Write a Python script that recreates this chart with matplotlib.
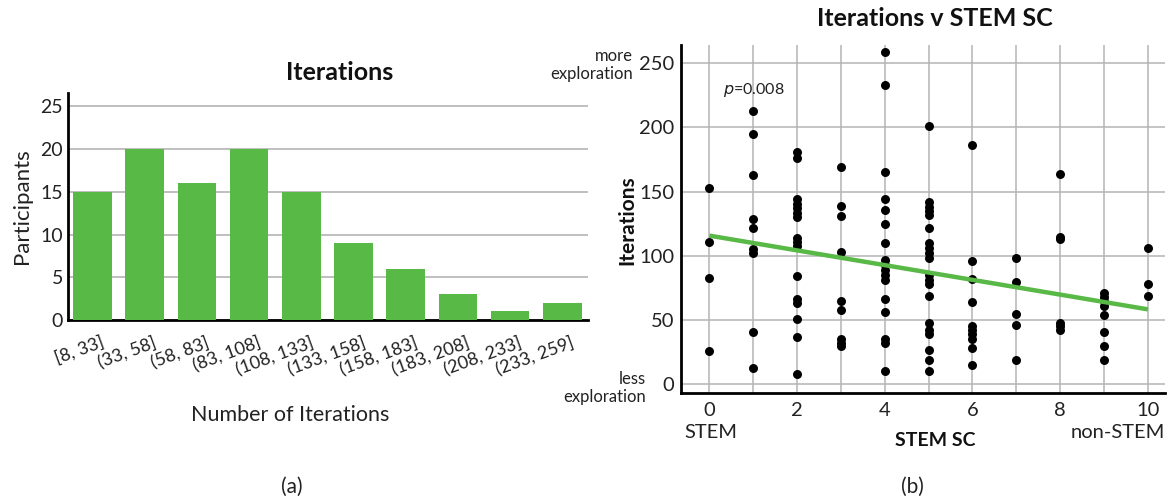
import numpy as np
import matplotlib.pyplot as plt
from matplotlib.transforms import ScaledTranslation

plt.rcParams['font.family'] = ['Lato', 'DejaVu Sans']

# (a) histogram of iterations
bins = ["[8, 33]", "(33, 58]", "(58, 83]", "(83, 108]", "(108, 133]",
        "(133, 158]", "(158, 183]", "(183, 208]", "(208, 233]", "(233, 259]"]
participants = [15, 20, 16, 20, 15, 9, 6, 3, 1, 2]

# (b) iterations per STEM SC score
stem_sc = {
    0: [153, 111, 83, 26],
    1: [213, 195, 163, 129, 122, 105, 102, 41, 13],
    2: [181, 176, 144, 140, 137, 133, 130, 114, 111, 108, 84, 66, 63, 51, 37, 8],
    3: [169, 139, 131, 103, 65, 58, 35, 32, 30],
    4: [259, 233, 165, 144, 136, 125, 110, 97, 93, 89, 85, 81, 66, 56, 35, 32, 10],
    5: [201, 142, 138, 135, 132, 122, 110, 106, 102, 98, 85, 81, 78, 69, 48, 42, 39, 27, 19, 10],
    6: [186, 96, 82, 64, 45, 42, 39, 35, 28, 15],
    7: [98, 80, 55, 46, 19],
    8: [164, 115, 113, 48, 45, 42],
    9: [71, 68, 65, 61, 54, 41, 30, 19],
    10: [106, 78, 69],
}

green = "#58b947"
grid_c = "#b4b4b4"
txt = '#222222'

fig = plt.figure(figsize=(11.69, 5.01), dpi=100)

# ---- left panel
ax1 = fig.add_axes([0.0579, 0.3613, 0.445, 0.4537])
ax1.bar(range(len(bins)), participants, width=0.74, color=green, zorder=3)
ax1.set_xlim(-0.475, 9.49)
ax1.set_ylim(0, 26.6)
ax1.set_yticks([0, 5, 10, 15, 20, 25])
ax1.yaxis.grid(True, color=grid_c, lw=1.2)
ax1.set_axisbelow(True)
ax1.set_xticks(range(len(bins)))
ax1.tick_params(axis='both', length=0, labelsize=14, colors=txt)
ax1.tick_params(axis='x', pad=10, labelsize=13)
ax1.set_xticklabels(bins, rotation=20, ha='right', fontsize=13, color=txt)
# labels sit a bit right of the bar centre, like the original
shift = ScaledTranslation(14 / 100, 0, fig.dpi_scale_trans)
for lab in ax1.get_xticklabels():
    lab.set_transform(lab.get_transform() + shift)
for s in ['top', 'right']:
    ax1.spines[s].set_visible(False)
for s in ['left', 'bottom']:
    ax1.spines[s].set_linewidth(2)
ax1.set_ylabel("Participants", fontsize=16, color=txt, labelpad=6)
fig.text(340 / 1169, 1 - 72 / 501, "Iterations", ha='center', va='center',
         fontsize=18, fontweight='bold', color='#111111')
fig.text(290 / 1169, 1 - 415 / 501, "Number of Iterations", ha='center', va='center',
         fontsize=15.5, color=txt)

# ---- right panel
ax2 = fig.add_axes([0.5826, 0.215, 0.414, 0.695])
xs = np.concatenate([[k] * len(v) for k, v in stem_sc.items()])
ys = np.concatenate([v for v in stem_sc.values()])
ax2.scatter(xs, ys, s=42, color='black', zorder=3, linewidths=0)
slope, intercept = np.polyfit(xs, ys, 1)
fx = np.array([0, 10])
ax2.plot(fx, intercept + slope * fx, color=green, lw=3.2, zorder=4, solid_capstyle='butt')
ax2.set_xlim(-0.645, 10.39)
ax2.set_ylim(-7, 264)
ax2.set_xticks(range(0, 11))
ax2.set_xticklabels([str(i) if i % 2 == 0 else "" for i in range(0, 11)])
ax2.set_yticks([0, 50, 100, 150, 200, 250])
ax2.grid(True, color=grid_c, lw=1.1)
ax2.set_axisbelow(True)
ax2.tick_params(axis='both', length=0, labelsize=14.5, colors=txt)
ax2.tick_params(axis='x', pad=6)
ax2.tick_params(axis='y', pad=5)
for s in ['top', 'right']:
    ax2.spines[s].set_visible(False)
for s in ['left', 'bottom']:
    ax2.spines[s].set_linewidth(2)
ax2.text(0.32, 229, r"$p$=0.008", fontsize=11.5, color=txt, va='center')

fig.text(935 / 1169, 1 - 18 / 501, "Iterations v STEM SC", ha='center', va='center',
         fontsize=18, fontweight='bold', color='#111111')
fig.text(627 / 1169, 1 - 220 / 501, "Iterations", ha='center', va='center',
         rotation=90, fontsize=15, fontweight='bold', color='#111111')
fig.text(935 / 1169, 1 - 440 / 501, "STEM SC", ha='center', va='center',
         fontsize=14, fontweight='bold', color='#111111')
fig.text(684 / 1169, 1 - 432 / 501, "STEM", ha='left', va='center',
         fontsize=14.5, color=txt)
fig.text(1165 / 1169, 1 - 432 / 501, "non-STEM", ha='right', va='center',
         fontsize=14.5, color=txt)
fig.text(633 / 1169, 1 - 65 / 501, "more\nexploration", ha='right', va='center',
         fontsize=12, color=txt, linespacing=1.2)
fig.text(646 / 1169, 1 - 388 / 501, "less\nexploration", ha='right', va='center',
         fontsize=12, color=txt, linespacing=1.2)

fig.text(292 / 1169, 1 - 487 / 501, "(a)", ha='center', va='center', fontsize=15, color=txt)
fig.text(912 / 1169, 1 - 487 / 501, "(b)", ha='center', va='center', fontsize=15, color=txt)

fig.savefig("out.png", dpi=100)
